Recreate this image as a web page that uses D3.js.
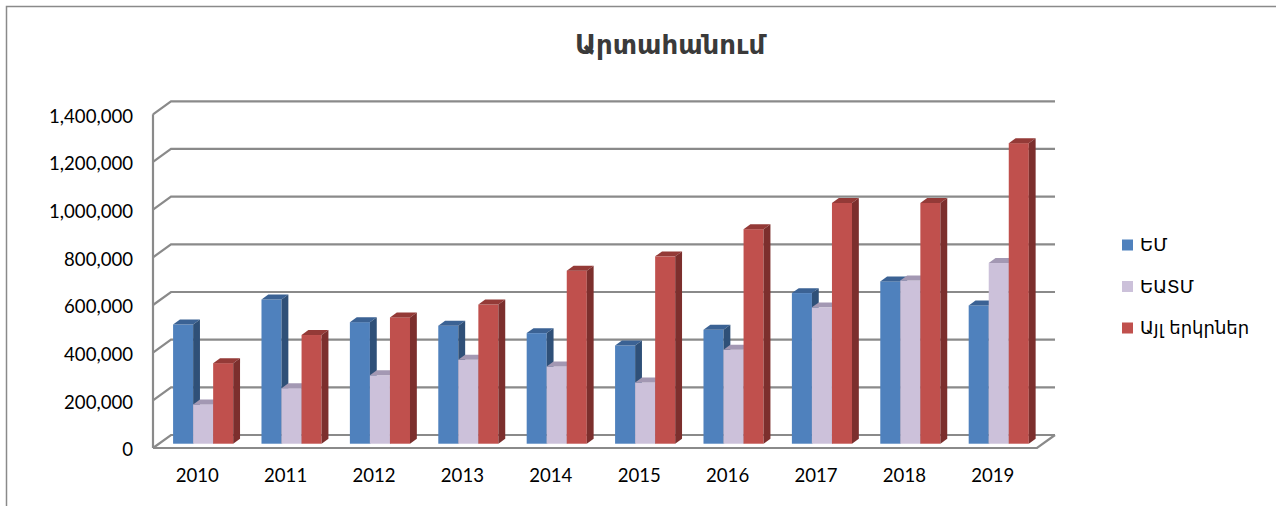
<!DOCTYPE html>
<html>
<head>
<meta charset="utf-8">
<script src="https://cdn.jsdelivr.net/npm/d3@7"></script>
<style>
  body { margin: 0; background: #fff; }
  svg { display: block; }
</style>
</head>
<body>
<div id="chart"></div>
<script>
// data
const years = ["2010", "2011", "2012", "2013", "2014", "2015", "2016", "2017", "2018", "2019"];
const seriesNames = ["ԵՄ", "ԵԱՏՄ", "Այլ երկրներ"];
const euValues = [500000, 605000, 510000, 495000, 464000, 412000, 478000, 632000, 681000, 580000];
const eaeuValues = [165000, 233000, 287000, 352000, 324000, 257000, 394000, 572000, 685000, 758000];
const otherValues = [338000, 456000, 530000, 584000, 726000, 786000, 900000, 1010000, 1010000, 1261000];
const yTicks = [0, 200000, 400000, 600000, 800000, 1000000, 1200000, 1400000];

const w = 1276;
const h = 506;

// colours for front / top / side of each series
const colors = [
  { front: "#4f81bd", top: "#3b6294", side: "#2f5078" },
  { front: "#ccc1da", top: "#a398b3", side: "#8f84a0" },
  { front: "#c0504d", top: "#943a37", side: "#7c2f2d" },
];

// 3d depth of the plot box
const depthX = 18;
const depthY = 13;
const barZ0 = 0.33;
const barZ1 = 0.71;

const svg = d3
  .select("#chart")
  .append("svg")
  .attr("width", w)
  .attr("height", h)
  .attr("viewBox", [0, 0, w, h]);

svg.append("rect").attr("width", w).attr("height", h).attr("fill", "#fff");

// outer frame
svg
  .append("rect")
  .attr("x", 6.5)
  .attr("y", 6.5)
  .attr("width", 1320)
  .attr("height", 540)
  .attr("fill", "none")
  .attr("stroke", "#8a8a8a")
  .attr("stroke-width", 1.5);

// scales (front plane)
const left = 153;
const right = 1037;
const x = d3.scaleBand().domain(years).range([left, right]).paddingInner(0.32).paddingOuter(0.16);
const xs = d3.scaleBand().domain(seriesNames).range([0, x.bandwidth()]);
const y = d3.scaleLinear().domain([0, 1400000]).range([448, 114.3]);

const px = (xv, z) => xv + z * depthX;
const py = (v, z) => y(v) - z * depthY;

// walls and gridlines
const grid = svg.append("g").attr("stroke", "#8a8a8a").attr("stroke-width", 2.2).attr("fill", "none");

grid
  .selectAll("path.grid")
  .data(yTicks)
  .enter()
  .append("path")
  .attr("class", "grid")
  .attr("d", (d) => `M${px(left, 0)},${py(d, 0)} L${px(left, 1)},${py(d, 1)} L${px(right, 1)},${py(d, 1)}`);

// left wall front edge
grid
  .append("line")
  .attr("x1", left)
  .attr("x2", left)
  .attr("y1", y(1400000))
  .attr("y2", y(0));

// floor front and right edges
grid
  .append("path")
  .attr("d", `M${left},${y(0)} L${right},${y(0)} L${px(right, 1)},${py(0, 1)}`);

// bars
const seriesValues = [euValues, eaeuValues, otherValues];
const bars = [];
years.forEach((yr, i) => {
  seriesNames.forEach((s, j) => {
    bars.push({ year: yr, s: j, value: seriesValues[j][i] });
  });
});

const barG = svg
  .append("g")
  .selectAll("g")
  .data(bars)
  .enter()
  .append("g");

const bx0 = (d) => px(x(d.year) + xs(seriesNames[d.s]), barZ0);
const bx1 = (d) => bx0(d) + xs.bandwidth();
const ddx = (barZ1 - barZ0) * depthX;
const ddy = (barZ1 - barZ0) * depthY;

barG
  .append("rect")
  .attr("x", bx0)
  .attr("y", (d) => py(d.value, barZ0))
  .attr("width", xs.bandwidth())
  .attr("height", (d) => py(0, barZ0) - py(d.value, barZ0))
  .attr("fill", (d) => colors[d.s].front);

barG
  .append("path")
  .attr("fill", (d) => colors[d.s].top)
  .attr("d", (d) => {
    const t = py(d.value, barZ0);
    return `M${bx0(d)},${t} L${bx1(d)},${t} L${bx1(d) + ddx},${t - ddy} L${bx0(d) + ddx},${t - ddy}Z`;
  });

barG
  .append("path")
  .attr("fill", (d) => colors[d.s].side)
  .attr("d", (d) => {
    const t = py(d.value, barZ0);
    const b = py(0, barZ0);
    return `M${bx1(d)},${t} L${bx1(d) + ddx},${t - ddy} L${bx1(d) + ddx},${b - ddy} L${bx1(d)},${b}Z`;
  });

// axes
const yAxis = svg
  .append("g")
  .attr("transform", `translate(${left},2)`)
  .call(d3.axisLeft(y).tickValues(yTicks).tickFormat(d3.format(",")).tickSize(0).tickPadding(20));
yAxis.select(".domain").remove();
yAxis.selectAll("text").attr("font-family", "Lato, sans-serif").attr("font-size", 18.6).attr("fill", "#000");

const xAxis = svg
  .append("g")
  .attr("transform", `translate(0,${y(0)})`)
  .call(d3.axisBottom(x).tickSize(0).tickPadding(21));
xAxis.select(".domain").remove();
xAxis.selectAll("text").attr("font-family", "Lato, sans-serif").attr("font-size", 18.6).attr("fill", "#000");

// title
svg
  .append("text")
  .attr("x", 670)
  .attr("y", 54)
  .attr("text-anchor", "middle")
  .attr("font-family", "'DejaVu Sans', sans-serif")
  .attr("font-weight", "bold")
  .attr("font-size", 26)
  .attr("fill", "#3a3a3a")
  .text("Արտահանում");

// legend
const legend = svg
  .append("g")
  .selectAll("g")
  .data(seriesNames)
  .enter()
  .append("g")
  .attr("transform", (d, i) => `translate(1122,${245 + i * 41.5})`);

legend
  .append("rect")
  .attr("x", 0)
  .attr("y", -5.5)
  .attr("width", 11)
  .attr("height", 11)
  .attr("fill", (d, i) => colors[i].front);

legend
  .append("text")
  .attr("x", 18)
  .attr("dy", "0.36em")
  .attr("font-family", "'DejaVu Sans', sans-serif")
  .attr("font-size", 18)
  .attr("fill", "#000")
  .text((d) => d);
</script>
</body>
</html>
